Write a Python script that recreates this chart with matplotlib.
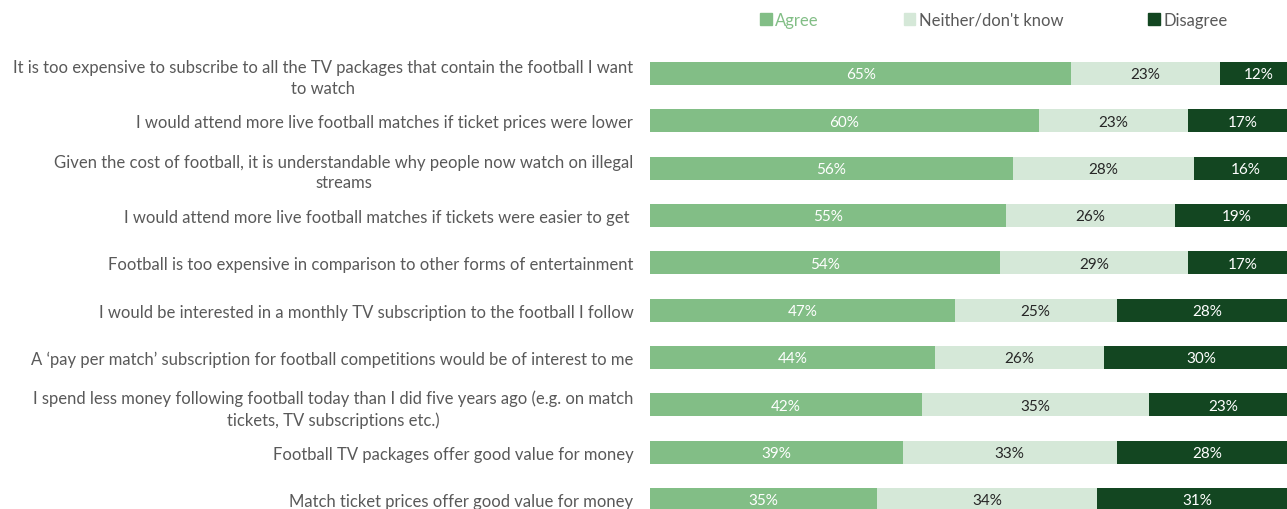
import numpy as np
import matplotlib.pyplot as plt
from matplotlib.patches import Patch

statements = [
    "It is too expensive to subscribe to all the TV packages that contain the football I want\nto watch",
    "I would attend more live football matches if ticket prices were lower",
    "Given the cost of football, it is understandable why people now watch on illegal\nstreams",
    "I would attend more live football matches if tickets were easier to get ",
    "Football is too expensive in comparison to other forms of entertainment",
    "I would be interested in a monthly TV subscription to the football I follow",
    "A \u2018pay per match\u2019 subscription for football competitions would be of interest to me",
    "I spend less money following football today than I did five years ago (e.g. on match\ntickets, TV subscriptions etc.)",
    "Football TV packages offer good value for money",
    "Match ticket prices offer good value for money",
]
agree = [65, 60, 56, 55, 54, 47, 44, 42, 39, 35]
neither = [23, 23, 28, 26, 29, 25, 26, 35, 33, 34]
disagree = [12, 17, 16, 19, 17, 28, 30, 23, 28, 31]

series = ["Agree", "Neither/don't know", "Disagree"]
colors = ["#82be86", "#d5e8d8", "#134621"]
text_colors = ["white", "#262626", "white"]

plt.rcParams['font.family'] = ['Lato', 'DejaVu Sans']

fig = plt.figure(figsize=(12.87, 5.10), dpi=100)
ax = fig.add_axes([650 / 1287, 0, 648 / 1287, 1])

y = np.arange(len(statements))
left = np.zeros(len(statements))
for vals, name, col, tcol in zip([agree, neither, disagree], series, colors, text_colors):
    vals = np.array(vals)
    ax.barh(y, vals, left=left, height=0.49, color=col, label=name)
    for yi, l, v in zip(y, left, vals):
        ax.text(l + v / 2, yi + 0.02, f"{v}%", ha='center', va='center',
                color=tcol, fontsize=11)
    left += vals

ax.set_xlim(0, 100)
ax.set_ylim(9.201, -1.574)
ax.set_yticks(y)
ax.set_yticklabels(statements, fontsize=12, color='#595959',
                   multialignment='center', linespacing=1.35)
ax.tick_params(axis='y', length=0, pad=12)
ax.tick_params(axis='x', bottom=False, labelbottom=False)
for s in ax.spines.values():
    s.set_visible(False)

handles = [Patch(color=c) for c in colors]
leg = fig.legend(handles, series, loc='center left', bbox_to_anchor=(760 / 1287, 1 - 21 / 510),
                 ncol=3, frameon=False, fontsize=12, handlelength=0.7, handleheight=0.7,
                 handletextpad=0.2, columnspacing=5.1, borderaxespad=0, borderpad=0)
for t, c in zip(leg.get_texts(), ["#82be86", "#595959", "#595959"]):
    t.set_color(c)

fig.savefig("out.png", dpi=100)
